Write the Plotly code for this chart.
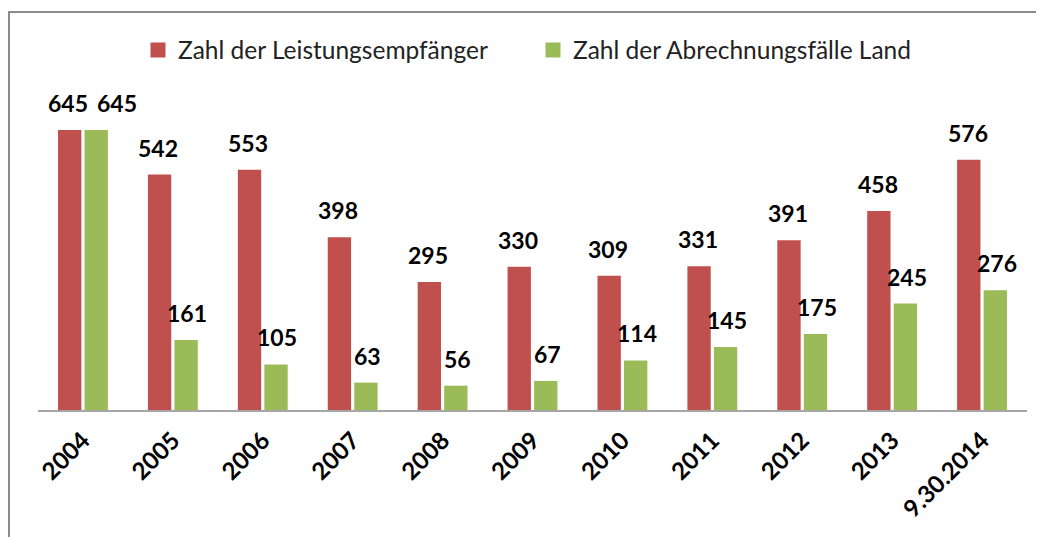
import plotly.graph_objects as go

categories = ["2004", "2005", "2006", "2007", "2008", "2009", "2010", "2011", "2012", "2013", "9.30.2014"]
leistungsempfaenger = [645, 542, 553, 398, 295, 330, 309, 331, 391, 458, 576]
abrechnungsfaelle = [645, 161, 105, 63, 56, 67, 114, 145, 175, 245, 276]
series_names = ["Zahl der Leistungsempfänger", "Zahl der Abrechnungsfälle Land"]
colors = ["#C0504D", "#9BBB59"]

FONT = "Lato"

fig = go.Figure()
for name, vals, col in zip(series_names, [leistungsempfaenger, abrechnungsfaelle], colors):
    fig.add_trace(go.Bar(x=categories, y=vals, name=name, showlegend=False,
                         marker=dict(color=col, line=dict(width=0))))
# legend entries with larger square symbols
for name, col in zip(series_names, colors):
    fig.add_trace(go.Scatter(x=[None], y=[None], mode="markers", name=name,
                             marker=dict(symbol="square", size=15, color=col)))

annotations = []
for k, (vals, shift) in enumerate([(leistungsempfaenger, -14.5), (abrechnungsfaelle, 14.5)]):
    for i, v in enumerate(vals):
        extra = 0
        # avoid overlapping the neighbouring label of equal height
        if k == 1 and leistungsempfaenger[i] == v:
            extra = 20
        annotations.append(dict(x=i, y=v, xref="x", yref="y", text=str(v), showarrow=False,
                                xshift=shift + extra, yshift=27, yanchor="middle",
                                font=dict(family=FONT, size=23, color="black", weight="bold")))

OFF = 8  # page body margin
L, R, T, B = 38 - OFF, 1027 - OFF, 106 - OFF, 410 - OFF
W, H = 1044, 537
def px(x):
    return (x - OFF - L) / (R - L)
def py(y):
    return (B - (y - OFF)) / (B - T)

fig.update_layout(
    width=W, height=H,
    margin=dict(l=L, r=W - R, t=T, b=H - B, pad=0, autoexpand=False),
    barmode="group", bargap=0.41, bargroupgap=0.12,
    plot_bgcolor="white", paper_bgcolor="white",
    font=dict(family=FONT, size=20, color="black"),
    showlegend=True,
    legend=dict(orientation="h", x=px(533), xanchor="center", y=py(50), yanchor="middle",
                font=dict(family=FONT, size=24.5, color="#222"), tracegroupgap=0,
                itemwidth=30, entrywidth=350, entrywidthmode="pixels", bgcolor="rgba(0,0,0,0)"),
    annotations=annotations,
    shapes=[dict(type="rect", xref="paper", yref="paper", x0=px(9), x1=px(1070), y0=py(12), y1=py(580),
                 line=dict(color="#8c8c8c", width=2), layer="below")],
    xaxis=dict(type="category", range=[-0.5, len(categories) - 0.5], autorange=False,
               automargin=False, showline=True, linecolor="#a6a6a6", linewidth=1.5,
               tickangle=-45, ticks="",
               tickfont=dict(family=FONT, size=24, color="black", weight="bold"), ticklabelstandoff=5),
    yaxis=dict(range=[0, 700], autorange=False, visible=False, showgrid=False, automargin=False),
)
fig.write_html("out.html")
